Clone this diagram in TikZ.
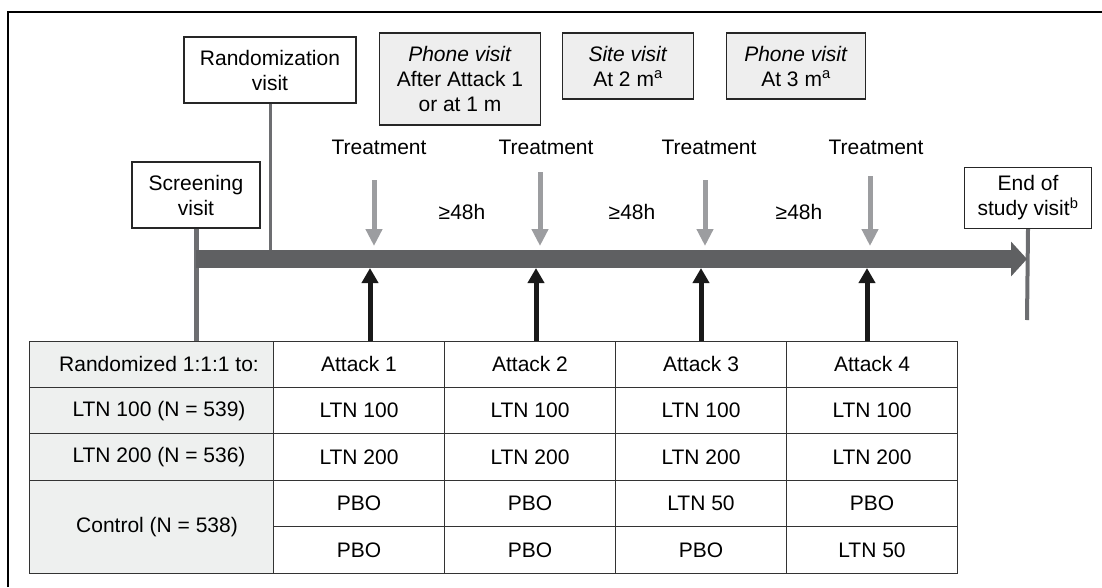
\documentclass[tikz,border=0pt]{standalone}
\usepackage{fontspec}
\setmainfont{Liberation Sans}
\usetikzlibrary{arrows.meta, positioning}
\definecolor{bargray}{HTML}{5F6062}
\definecolor{linegray}{HTML}{6D6E71}
\definecolor{arrgray}{HTML}{9C9DA0}
\definecolor{boxgray}{HTML}{EEEEEE}
\definecolor{cellgray}{HTML}{EEF0EF}
\tikzset{
	visitbox/.style={draw=black!85, line width=1.3pt, align=center, inner sep=0pt},
	cell/.style={draw=black!80, line width=1pt, minimum width=171pt, minimum height=46.4pt, inner sep=0pt},
	namecell/.style={cell, fill=cellgray, minimum width=244pt},
	treatarrow/.style={arrgray, line width=5pt, -{Triangle[length=17pt 0 0, width=16pt 0 0]}},
	attackarrow/.style={black!90, line width=5pt, -{Triangle[length=15pt 0 0, width=16pt 0 0]}}
}

\begin{document}
\begin{tikzpicture}[x=1pt, y=-1pt, font=\fontsize{21}{25}\selectfont]
	\useasboundingbox (0,0) rectangle (1102,587);
	\draw [line width=2pt] (8,587) |- (1102,12);
	% visits
	\node [visitbox, minimum width=128pt, minimum height=66pt] (scr) at (196,195) {Screening\\visit};
	\node [visitbox, minimum width=172pt, minimum height=66pt] (rand) at (270,70) {Randomization\\visit};
	\node [visitbox, fill=boxgray, minimum width=161pt, minimum height=92pt] (ph1) at (460,79) {\textit{Phone visit}\\After Attack 1\\or at 1 m};
	\node [visitbox, fill=boxgray, minimum width=131pt, minimum height=66pt] (site) at (628,66) {\textit{Site visit}\\At 2 m\textsuperscript{a}};
	\node [visitbox, fill=boxgray, minimum width=139pt, minimum height=66pt] (ph3) at (796,66) {\textit{Phone visit}\\At 3 m\textsuperscript{a}};
	\node [visitbox, minimum width=127pt, minimum height=61pt] (eos) at (1028,198) {End of\\study visit\textsuperscript{b}};
	% time line
	\coordinate (start) at (196,259);
	\coordinate (stop) at (1027,259);
	\coordinate (scrend) at (196,403);
	\coordinate (eosend) at (1027,320);
	\draw [linegray, line width=5pt] (scr.south) -- (scrend);
	\draw [linegray, line width=3pt] (rand.south) -- (rand.south |- start);
	\draw [linegray, line width=4pt] (eos.south) -- (eosend);
	\draw [bargray, line width=18pt, -{Triangle[length=16pt 0 0, width=34pt 0 0]}] (start) -- (stop);
	% treatments
	\foreach \i/\x in {1/379,2/546,3/709,4/876}	\node (trt\i) at (\x,147) {Treatment};
	\foreach \i/\x/\y in {1/374/180,2/540/172,3/705/180,4/870/176} {
		\coordinate (g\i) at (\x,\y);
		\draw [treatarrow] (g\i) -- (\x,246);
	}
	\foreach \i/\x in {1/462,2/632,3/799}	\node (gap\i) at (\x,212) {≥48h};
	% table
	\node [namecell] (hdr) at (151,364.2) {\hspace{16pt}Randomized 1:1:1 to:};
	\node [namecell] (grp1) at (151,410.6) {\hspace{16pt}LTN 100 (N = 539)};
	\node [namecell] (grp2) at (151,457) {\hspace{16pt}LTN 200 (N = 536)};
	\node [namecell, minimum height=92.8pt] (grp3) at (151,526.6) {\hspace{12pt}Control (N = 538)};
	\foreach \i/\x/\a/\b in {1/359/PBO/PBO, 2/530/PBO/PBO, 3/701/LTN 50/PBO, 4/872/PBO/LTN 50} {
		\node [cell] (att\i) at (\x,364.2) {Attack \i};
		\node [cell] (lo\i) at (\x,410.6) {LTN 100};
		\node [cell] (hi\i) at (\x,457) {LTN 200};
		\node [cell] (pa\i) at (\x,503.4) {\a};
		\node [cell] (pb\i) at (\x,549.8) {\b};
	}
	\foreach \i/\x in {1/370,2/536,3/701,4/867} {
		\coordinate (t\i) at (\x,268);
		\draw [attackarrow] (att\i.north -| t\i) -- (t\i);
	}
\end{tikzpicture}
\end{document}
